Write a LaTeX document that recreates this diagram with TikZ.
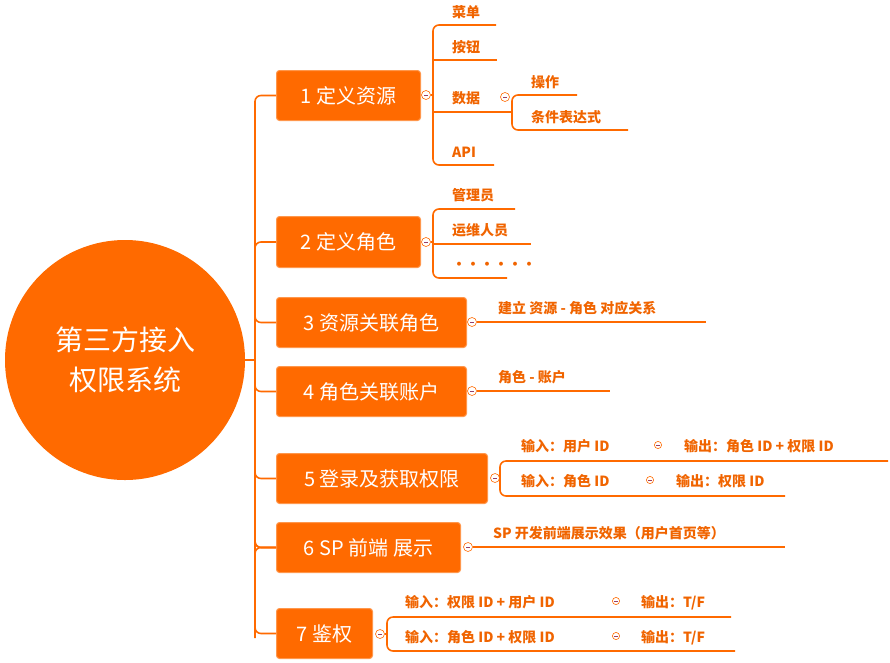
\documentclass[tikz,border=0pt]{standalone}
\usepackage{fontspec}
\setmainfont{Noto Sans CJK SC}
\definecolor{brand}{RGB}{255,106,0}
\definecolor{leaftxt}{RGB}{240,100,0}
\begin{document}
\begin{tikzpicture}[x=1pt,y=-1pt,
    box/.style={fill=brand,draw=brand!70!white,line width=1pt,rounded corners=3pt,text=white,
      font=\fontsize{20}{24}\selectfont,anchor=north west,inner sep=0pt},
    leaf/.style={text=leaftxt,font=\fontsize{14}{16}\selectfont\bfseries,anchor=base west,inner sep=0pt},
    fold/.style={circle,draw=brand,fill=white,line width=0.6pt,minimum size=9pt,inner sep=0pt,
      path picture={\draw[brand!60!blue,line width=0.6pt] ([xshift=-2pt]path picture bounding box.center) -- ([xshift=2pt]path picture bounding box.center);}},
    wire/.style={draw=brand,line width=1.6pt,rounded corners=6pt}]
\useasboundingbox (0,0) rectangle (890,662);
% root
\node[circle,fill=brand,minimum size=240pt,text=white,align=center,
  font=\fontsize{28}{40}\selectfont] (root) at (125,360) {第三方接入\\权限系统};
% boxes
\node[box,minimum width=144pt,minimum height=50pt] (b1) at (276,70) {1 定义资源};
\node[box,minimum width=144pt,minimum height=51pt] (b2) at (276,216) {2 定义角色};
\node[box,minimum width=190pt,minimum height=50pt] (b3) at (276,297) {3 资源关联角色};
\node[box,minimum width=190pt,minimum height=50pt] (b4) at (276,366) {4 角色关联账户};
\node[box,minimum width=211pt,minimum height=50pt] (b5) at (276,453) {5 登录及获取权限};
\node[box,minimum width=184pt,minimum height=50pt] (b6) at (276,522) {6 SP 前端 展示};
\node[box,minimum width=96pt,minimum height=50pt] (b7) at (276,608) {7 鉴权};
% spine
\draw[wire] (root.east) -- (255,360);
\draw[wire] (b1.west) -| (255,632) |- (b7.west);
\foreach \b in {b2,b3,b4,b5,b6} \draw[wire] (255,300) |- (\b.west);
\draw[wire] (255,470) |- (b6.west);
\draw[wire] (255,560) |- (b6.west);
% 1
\node[fold] (f1) at (426,95) {};
\draw[wire] (f1.east) -- (433,95);
\draw[wire] (496,25) -- (433,25) -- (433,165) -- (494,165);
\draw[wire,rounded corners=0] (433,60) -- (497,60);
\node[leaf] (l11) at (452,17) {菜单};
\node[leaf] (l12) at (452,52) {按钮};
\node[leaf] (l13) at (452,103) {数据};
\node[leaf] (l14) at (452,157) {API};
\node[fold] (f13) at (505,97) {};
\draw[wire] (433,112) -- (512,112);
\draw[wire] (577,95) -- (512,95) -- (512,130) -- (628,130);
\node[leaf] (l131) at (531,87) {操作};
\node[leaf] (l132) at (531,122) {条件表达式};
% 2
\node[fold] (f2) at (426,242) {};
\draw[wire] (f2.east) -- (433,242);
\draw[wire] (515,209) -- (433,209) -- (433,278) -- (507,278);
\draw[wire,rounded corners=0] (433,244) -- (531,244);
\node[leaf] (l21) at (452,200) {管理员};
\node[leaf] (l22) at (452,235) {运维人员};
\node[leaf] (l23) at (452,269) {••••••};
% 3, 4
\node[fold] (f3) at (472,322) {};
\draw[wire] (f3.east) -- (706,322);
\node[leaf] (l31) at (498,313) {建立 资源 - 角色 对应关系};
\node[fold] (f4) at (472,391) {};
\draw[wire] (f4.east) -- (610,391);
\node[leaf] (l41) at (498,382) {角色 - 账户};
% 5
\node[fold] (f5) at (495,478) {};
\draw[wire] (888,461) -- (500,461) -- (500,496) -- (785,496);
\draw[wire] (f5.east) -- (500,478);
\node[leaf] (l51) at (521,451) {输入：用户 ID};
\node[fold,scale=0.8] (f51) at (658,445) {};
\node[leaf] (l52) at (684,451) {输出：角色 ID + 权限 ID};
\node[leaf] (l53) at (521,486) {输入：角色 ID};
\node[fold,scale=0.8] (f53) at (650,480) {};
\node[leaf] (l54) at (676,486) {输出：权限 ID};
% 6
\node[fold] (f6) at (468,547) {};
\draw[wire] (f6.east) -- (785,547);
\node[leaf] (l61) at (493,538) {SP 开发前端展示效果（用户首页等）};
% 7
\node[fold] (f7) at (380,634) {};
\draw[wire] (731,617) -- (387,617) -- (387,651) -- (735,651);
\draw[wire] (f7.east) -- (387,634);
\node[leaf] (l71) at (405,607) {输入：权限 ID + 用户 ID};
\node[fold,scale=0.8] (f71) at (616,601) {};
\node[leaf] (l72) at (641,607) {输出：T/F};
\node[leaf] (l73) at (405,642) {输入：角色 ID + 权限 ID};
\node[fold,scale=0.8] (f73) at (616,636) {};
\node[leaf] (l74) at (641,642) {输出：T/F};
\end{tikzpicture}
\end{document}
